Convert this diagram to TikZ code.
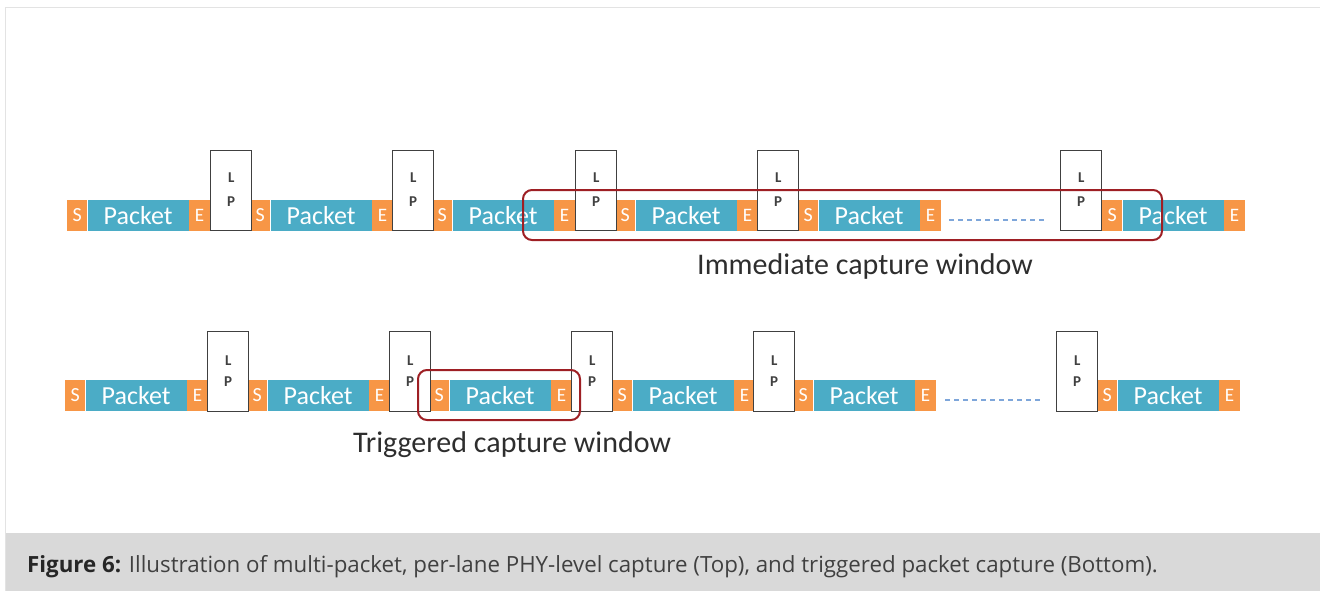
\documentclass[tikz,border=0pt]{standalone}
\usepackage{fontspec}
\setmainfont{Carlito}
\newfontfamily\capfont{Open Sans}
\definecolor{orS}{HTML}{F79646}
\definecolor{blP}{HTML}{4BACC6}
\definecolor{winred}{HTML}{9E1F24}
\definecolor{lpgray}{HTML}{404040}
\definecolor{framegray}{HTML}{E3E3E3}
\definecolor{capbg}{HTML}{D9D9D9}
\definecolor{dashblue}{HTML}{7EA6DA}
\begin{document}
\begin{tikzpicture}[x=1pt,y=-1pt,
  seg/.style={inner sep=0pt, minimum height=31pt, text=white, anchor=west},
  sbox/.style={seg, fill=orS, minimum width=20pt, font=\fontsize{20}{20}\selectfont},
  pbox/.style={seg, fill=blP, minimum width=101pt, font=\fontsize{26}{26}\selectfont},
  ebox/.style={seg, fill=orS, minimum width=21pt, font=\fontsize{19}{19}\selectfont},
  lpbox/.style={draw=lpgray, line width=1.4pt, fill=white, minimum width=41pt, minimum height=80pt, inner sep=0pt, anchor=north west},
  lptext/.style={font=\bfseries\fontsize{15}{15}\selectfont, text=black!75, inner sep=0pt},
  window/.style={draw=winred, line width=2pt, rounded corners=9pt},
  dashline/.style={draw=dashblue, line width=1.1pt, dash pattern=on 5pt off 4pt},
  label/.style={font=\fontsize{30}{30}\selectfont, text=black!82, inner sep=0pt}
]
\useasboundingbox (0,0) rectangle (1320,591);
% frame and caption
\fill[capbg] (6,533) rectangle (1320,591);
\draw[framegray, line width=1.5pt] (5.5,591) -- (5.5,7.5) -- (1320,7.5);
\node[anchor=west, inner sep=0pt, font=\capfont\fontsize{22.3}{22.3}\selectfont, text=black!75] (cap) at (27,567)
  {{\bfseries\color{black!85}Figure 6:} Illustration of multi-packet, per-lane PHY-level capture (Top), and triggered packet capture (Bottom).};
% top row packets
\foreach \xs [count=\i] in {67,250,432,615,798,1102}{
  \node[sbox] (tS\i) at (\xs,215.5) {S};
  \node[pbox] (tP\i) at (tS\i.east) {Packet};
  \node[ebox] (tE\i) at (tP\i.east) {E};
}
% top row LP boxes
\foreach \xl [count=\i] in {210,392,575,757,1060}{
  \node[lpbox] (tL\i) at (\xl,150) {};
  \node[lptext] (tLl\i) at ([yshift=-28pt]tL\i.north) {L};
  \node[lptext] (tLp\i) at ([yshift=-52pt]tL\i.north) {P};
}
\draw[dashline] ([xshift=8pt,yshift=-4.5pt]tE5.east) -- ([xshift=-13pt,yshift=-4.5pt]tE5.east -| tL5.west);
% bottom row packets
\foreach \xs [count=\i] in {65,247,429,612,793,1097}{
  \node[sbox] (bS\i) at (\xs,395.5) {S};
  \node[pbox] (bP\i) at (bS\i.east) {Packet};
  \node[ebox] (bE\i) at (bP\i.east) {E};
}
\foreach \xl [count=\i] in {207,389,571,753,1056}{
  \node[lpbox] (bL\i) at (\xl,331) {};
  \node[lptext] (bLl\i) at ([yshift=-30pt]bL\i.north) {L};
  \node[lptext] (bLp\i) at ([yshift=-51pt]bL\i.north) {P};
}
\draw[dashline] ([xshift=9pt,yshift=-4.5pt]bE5.east) -- ([xshift=-14pt,yshift=-4.5pt]bE5.east -| bL5.west);
% capture windows
\draw[window] (523,190) rectangle (1162,240);
\draw[window] (418,370) rectangle (580,420);
\node[label] (imm) at (865,267) {Immediate capture window};
\node[label] (trg) at (512,445) {Triggered capture window};
\end{tikzpicture}
\end{document}
